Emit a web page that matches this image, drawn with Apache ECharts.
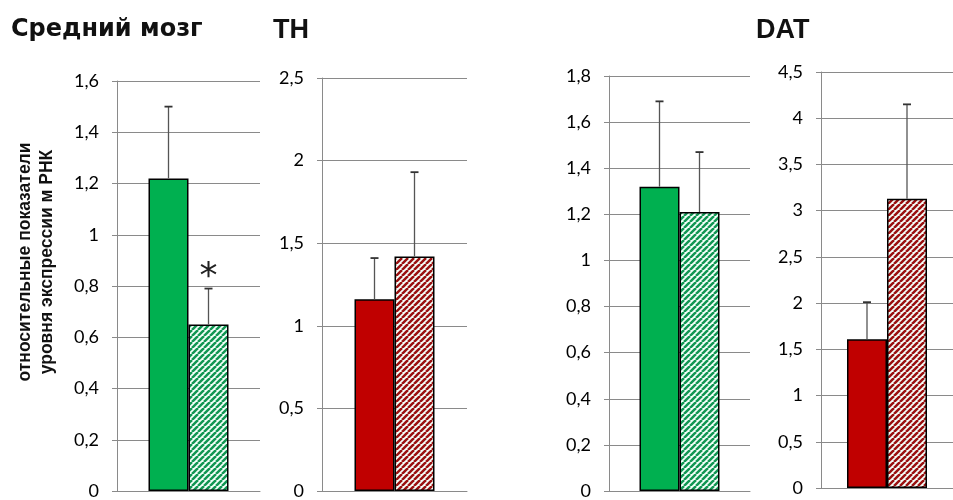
<!DOCTYPE html>
<html>
<head>
<meta charset="utf-8">
<script src="https://cdn.jsdelivr.net/npm/echarts@6/dist/echarts.min.js"></script>
<style>
  html, body { margin: 0; padding: 0; background: #fff; }
  #chart { width: 953px; height: 500px; }
</style>
</head>
<body>
<div id="chart"></div>
<script>
// данные
const categories = [""];
const yMax = [1.6, 2.5, 1.8, 4.5];
const yStep = [0.2, 0.5, 0.2, 0.5];
const solidValues = [1.22, 1.16, 1.32, 1.61];
const solidErrors = [0.28, 0.25, 0.37, 0.4];
const hatchedValues = [0.65, 1.42, 1.21, 3.13];
const hatchedErrors = [0.14, 0.51, 0.26, 1.02];
const hatchedMarks = ["*", "", "", ""];
const panelColors = ["#00b050", "#c00000", "#00b050", "#c00000"];
const stripeColors = ["#109652", "#9a1010", "#109652", "#9a1010"];
const titles = ["Средний мозг", "TH", "DAT"];
const yName = "относительные показатели\nуровня экспрессии м РНК";

const grids = [
  { left: 117, top: 81, width: 143, height: 411 },
  { left: 322, top: 78, width: 145, height: 414 },
  { left: 609, top: 76, width: 141, height: 416 },
  { left: 821, top: 72, width: 142, height: 416 }
];

const BAR_W = 40;

const makeHatch = (color) => {
  const s = 6;
  const c = document.createElement("canvas");
  c.width = s;
  c.height = s;
  const ctx = c.getContext("2d");
  ctx.fillStyle = "#f4fffa";
  ctx.fillRect(0, 0, s, s);
  ctx.strokeStyle = color;
  ctx.lineWidth = 2.5;
  [-s, 0, s].forEach((k) => {
    ctx.beginPath();
    ctx.moveTo(k, s);
    ctx.lineTo(k + s, 0);
    ctx.stroke();
  });
  return { image: c, repeat: "repeat" };
};

const fmt = (v) => String(+v.toFixed(2)).replace(".", ",");

const series = [];
grids.forEach((g, i) => {
  series.push({
    type: "bar",
    xAxisIndex: i,
    yAxisIndex: i,
    barWidth: BAR_W,
    barGap: "0%",
    data: [solidValues[i]],
    itemStyle: { color: panelColors[i], borderColor: "#000", borderWidth: 1.5 },
    silent: true
  });
  series.push({
    type: "bar",
    xAxisIndex: i,
    yAxisIndex: i,
    barWidth: BAR_W,
    barGap: "0%",
    data: [hatchedValues[i]],
    itemStyle: { color: makeHatch(stripeColors[i]), borderColor: "#000", borderWidth: 1.5 },
    silent: true
  });
  const marks = ["", hatchedMarks[i]];
  series.push({
    type: "custom",
    xAxisIndex: i,
    yAxisIndex: i,
    silent: true,
    z: 5,
    data: [
      [0, solidValues[i], solidErrors[i], 0],
      [0, hatchedValues[i], hatchedErrors[i], 1]
    ],
    renderItem: (params, api) => {
      const val = api.value(1);
      const err = api.value(2);
      const idx = api.value(3);
      let off = (idx - 0.5) * BAR_W;
      if (api.barLayout) {
        const lay = api.barLayout({ count: 2, barWidth: BAR_W, barGap: "0%" });
        if (lay && lay[idx] && lay[idx].offsetCenter != null) off = lay[idx].offsetCenter;
      }
      const base = api.coord([api.value(0), val]);
      const top = api.coord([api.value(0), val + err]);
      const x = base[0] + off;
      const children = [
        { type: "line", shape: { x1: x, y1: base[1], x2: x, y2: top[1] }, style: { stroke: "#555", lineWidth: 1.3 } },
        { type: "line", shape: { x1: x - 4, y1: top[1], x2: x + 4, y2: top[1] }, style: { stroke: "#333", lineWidth: 1.8 } }
      ];
      const m = marks[params.dataIndex];
      if (m) {
        children.push({
          type: "text",
          x: x,
          y: top[1] - 11,
          style: { text: m, fill: "#222", font: "36px 'DejaVu Sans'", align: "center", verticalAlign: "middle" }
        });
      }
      return { type: "group", children };
    }
  });
});

const chart = echarts.init(document.getElementById("chart"), null, { renderer: "canvas" });

chart.setOption({
  animation: false,
  backgroundColor: "#fff",
  title: [
    { text: titles[0], left: 6, top: 13, textStyle: { fontFamily: "DejaVu Sans", fontSize: 24 } },
    { text: titles[1], left: 268, top: 12, textStyle: { fontFamily: "Liberation Sans", fontSize: 27 } },
    { text: titles[2], left: 751, top: 12, textStyle: { fontFamily: "Liberation Sans", fontSize: 27 } }
  ].map((t) => ({
    ...t,
    textStyle: { ...t.textStyle, fontWeight: "bold", color: "#111" }
  })),
  graphic: [
    {
      type: "text",
      x: 36,
      y: 262,
      rotation: Math.PI / 2,
      style: {
        text: yName,
        fontFamily: "Liberation Sans",
        fontWeight: "bold",
        fontSize: 17.5,
        fill: "#111",
        align: "center",
        verticalAlign: "middle",
        lineHeight: 22
      }
    }
  ],
  grid: grids,
  xAxis: grids.map((g, i) => ({
    type: "category",
    gridIndex: i,
    data: categories,
    axisLine: { show: true, lineStyle: { color: "#8a8a8a", width: 1 } },
    axisTick: { show: false },
    axisLabel: { show: false }
  })),
  yAxis: grids.map((g, i) => ({
    type: "value",
    gridIndex: i,
    min: 0,
    max: yMax[i],
    interval: yStep[i],
    axisLine: { show: true, lineStyle: { color: "#8a8a8a", width: 1 } },
    axisTick: { show: true, length: 5, lineStyle: { color: "#8a8a8a" } },
    splitLine: { show: true, lineStyle: { color: "#8a8a8a", width: 1 } },
    axisLabel: {
      formatter: fmt,
      fontFamily: "Lato",
      fontSize: 18,
      color: "#000",
      margin: 18
    }
  })),
  series
});
</script>
</body>
</html>
